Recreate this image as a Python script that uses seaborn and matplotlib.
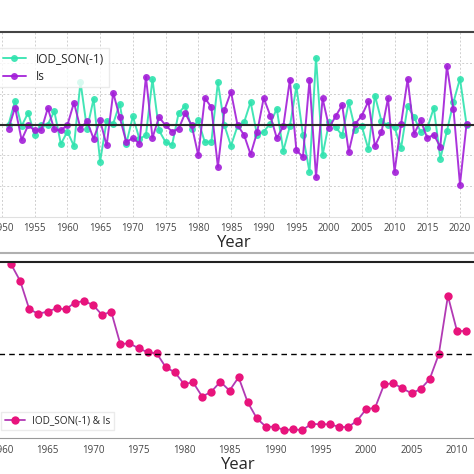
import numpy as np
import pandas as pd
import matplotlib
matplotlib.use("Agg")
import matplotlib.pyplot as plt
from matplotlib.lines import Line2D
import seaborn as sns

#%% data
years_top = list(range(1951, 2022))
iod_son = [0.00, 0.77, -0.05, 0.38, -0.34, 0.00, 0.00, 0.43, -0.63, -0.23,
           -0.70, 1.38, -0.15, 0.83, -1.20, 0.12, 0.03, 0.68, -0.62, 0.26,
           -0.46, -0.35, 1.47, -0.19, -0.57, -0.66, 0.37, 0.61, -0.14, 0.13,
           -0.57, -0.57, 1.37, -0.03, -0.69, -0.05, 0.07, 0.73, -0.35, -0.23,
           0.03, 0.51, -0.86, -0.06, 1.24, -0.35, -1.54, 2.17, -1.00, 0.08,
           -0.09, -0.35, 0.72, -0.17, -0.06, -0.80, 0.94, 0.11, -0.03, -0.09,
           -0.76, 0.59, 0.24, -0.25, -0.12, 0.54, -1.11, -0.22, 0.72, 1.49,
           0.00]
i_s = [-0.13, 0.55, -0.50, -0.03, -0.19, -0.19, 0.53, -0.16, -0.19, -0.02,
       0.71, -0.13, 0.11, -0.46, 0.13, -0.68, 1.03, 0.23, -0.57, -0.44,
       -0.62, 1.55, -0.43, 0.24, -0.03, -0.23, -0.14, 0.37, -0.03, -1.00,
       0.86, 0.56, -1.38, 0.47, 1.06, -0.02, -0.34, -0.97, -0.25, 0.86,
       0.29, -0.44, -0.06, 1.45, -0.84, -1.05, 1.45, -1.71, 0.85, -0.10,
       0.27, 0.63, -0.89, 0.02, 0.29, 0.75, -0.70, -0.25, 0.85, -1.54,
       0.02, 1.47, -0.30, 0.13, -0.44, -0.33, -0.73, 1.89, 0.51, -1.95,
       0.01]

years_bot = list(range(1961, 2012))
corr = [0.087, -0.008, -0.169, -0.194, -0.182, -0.163, -0.169, -0.131, -0.122, -0.144,
        -0.201, -0.182, -0.366, -0.362, -0.390, -0.413, -0.419, -0.498, -0.527, -0.593,
        -0.584, -0.665, -0.637, -0.580, -0.631, -0.555, -0.697, -0.788, -0.836, -0.836,
        -0.855, -0.851, -0.855, -0.820, -0.822, -0.822, -0.836, -0.839, -0.803, -0.737,
        -0.728, -0.595, -0.589, -0.618, -0.646, -0.622, -0.565, -0.424, -0.093, -0.292,
        -0.292]
sig_level = -0.424

top_df = pd.DataFrame({'year': years_top, 'iod': iod_son, 'is': i_s})
bot_df = pd.DataFrame({'year': years_bot, 'r': corr})

#%% plotting
sns.set_style('white')
plt.rcParams['font.family'] = ['Open Sans', 'DejaVu Sans']

fig = plt.figure(figsize=(4.74, 4.74), dpi=100)
W = H = 474.0

# top panel: time series
ax1 = fig.add_axes([-11.1 / W, (H - 217) / H, 490.7 / W, 185 / H])
sns.lineplot(data=top_df, x='year', y='iod', ax=ax1, color='#2fe3ae', marker='o',
             markersize=5, markeredgewidth=0, linewidth=1.4, alpha=0.9,
             label='IOD_SON(-1)')
sns.lineplot(data=top_df, x='year', y='is', ax=ax1, color='#a21ed8', marker='o',
             markersize=5, markeredgewidth=0, linewidth=1.4, alpha=0.9,
             label='Is')
ax1.axhline(0, color='#2a2a2a', lw=1.5, zorder=5)
ax1.set_xlim(1948, 2023)
ax1.set_ylim(-3, 3)
ax1.set_xticks(range(1950, 2021, 5))
ax1.set_yticks(range(-3, 4))
ax1.set_yticklabels([])
ax1.grid(True, ls=(0, (2, 2)), color='#cfcfcf', lw=0.7)
ax1.set_axisbelow(True)
ax1.set_xlabel('Year', fontsize=12, labelpad=1)
ax1.set_ylabel('')
ax1.tick_params(axis='x', labelsize=7, colors='#444444', length=2, pad=2)
ax1.tick_params(axis='y', length=0)
ax1.spines['top'].set_color('#444444')
ax1.spines['top'].set_linewidth(1.5)
ax1.spines['bottom'].set_color('#e0e0e0')
ax1.spines['left'].set_visible(False)
ax1.spines['right'].set_visible(False)
ax1.legend(loc='upper left', bbox_to_anchor=(-8 / W, (H - 42) / H),
           bbox_transform=fig.transFigure, fontsize=8.5, frameon=True,
           edgecolor='#e6e6e6', fancybox=False, borderpad=0.4,
           labelspacing=0.35)

# separator of the two panels
fig.add_artist(Line2D([0, 1], [(H - 253) / H] * 2, color='#b0b0b0', lw=1.5))

# bottom panel: sliding correlation
ax2 = fig.add_axes([-16.2 / W, (H - 438) / H, 509.6 / W, 176 / H])
sns.lineplot(data=bot_df, x='year', y='r', ax=ax2, color='#b23ab4', linewidth=1.3,
             marker='o', markersize=6, markerfacecolor='#e8147c',
             markeredgewidth=0, label='IOD_SON(-1) & Is')
ax2.axhline(sig_level, color='black', lw=1.0, ls=(0, (4, 3)))
ax2.set_xlim(1958, 2014)
ax2.set_ylim(-0.9, 0.1)
ax2.set_xticks(range(1960, 2011, 5))
ax2.set_yticks([])
ax2.set_xlabel('Year', fontsize=12, labelpad=1)
ax2.set_ylabel('')
ax2.tick_params(axis='x', labelsize=7, colors='#444444', length=2, pad=3)
ax2.spines['top'].set_color('#222222')
ax2.spines['top'].set_linewidth(1.5)
ax2.spines['bottom'].set_color('#999999')
ax2.spines['left'].set_visible(False)
ax2.spines['right'].set_visible(False)
ax2.legend(loc='lower left', bbox_to_anchor=(-4 / W, (H - 435) / H),
           bbox_transform=fig.transFigure, fontsize=7.2, frameon=True,
           edgecolor='#e6e6e6', fancybox=False, borderpad=0.35)

fig.savefig('out.png', dpi=100)
